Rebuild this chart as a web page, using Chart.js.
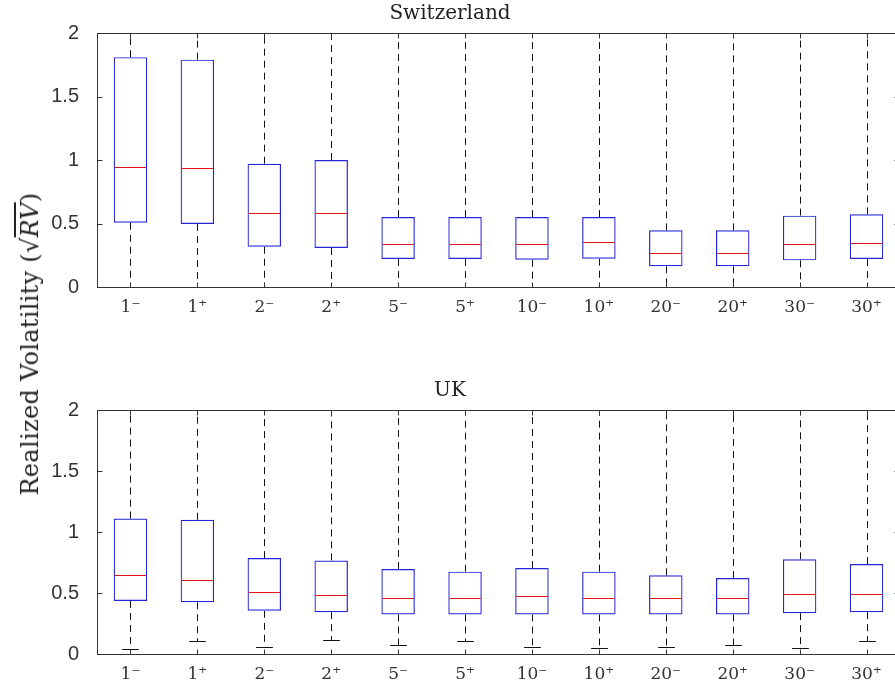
<!DOCTYPE html>
<html>
<head>
<meta charset="utf-8">
<script src="https://cdn.jsdelivr.net/npm/chart.js@4.4.0/dist/chart.umd.min.js"></script>
<style>
  html, body { margin: 0; padding: 0; background: #fff; overflow: hidden; }
  body { width: 895px; height: 688px; position: relative; }
  .panel { position: absolute; left: 0; width: 900px; }
  #ylab {
    position: absolute; left: 30px; top: 344px;
    transform: translate(-50%, -50%) rotate(-90deg);
    white-space: nowrap; font: 24px "DejaVu Serif", serif; color: #222;
    letter-spacing: 0.3px;
  }
  #ylab .rv { font-style: italic; text-decoration: overline; }
</style>
</head>
<body>
<div class="panel" style="top:0;height:320px"><canvas id="chSwiss"></canvas></div>
<div class="panel" style="top:377px;height:310px"><canvas id="chUK"></canvas></div>
<div id="ylab">Realized Volatility (√<span class="rv">RV</span>)</div>

<script>
const categories = ["1⁻", "1⁺", "2⁻", "2⁺", "5⁻", "5⁺", "10⁻", "10⁺", "20⁻", "20⁺", "30⁻", "30⁺"];
const yTicks = [0, 0.5, 1, 1.5, 2];

// Switzerland
const swissQ1  = [0.506, 0.496, 0.317, 0.307, 0.220, 0.220, 0.215, 0.223, 0.163, 0.163, 0.210, 0.220];
const swissMed = [0.945, 0.935, 0.585, 0.585, 0.341, 0.341, 0.341, 0.352, 0.270, 0.270, 0.339, 0.349];
const swissQ3  = [1.810, 1.790, 0.971, 1.000, 0.551, 0.551, 0.551, 0.551, 0.446, 0.446, 0.562, 0.572];
const swissLo  = [0, 0, 0, 0, 0, 0, 0, 0, 0, 0, 0, 0];
const swissHi  = [2.5, 2.5, 2.5, 2.5, 2.5, 2.5, 2.5, 2.5, 2.5, 2.5, 2.5, 2.5];

// UK
const ukQ1  = [0.435, 0.424, 0.354, 0.343, 0.324, 0.324, 0.324, 0.324, 0.324, 0.324, 0.335, 0.343];
const ukMed = [0.647, 0.604, 0.506, 0.484, 0.463, 0.455, 0.476, 0.463, 0.463, 0.455, 0.495, 0.495];
const ukQ3  = [1.110, 1.100, 0.786, 0.767, 0.697, 0.675, 0.705, 0.675, 0.645, 0.623, 0.776, 0.737];
const ukLo  = [0.043, 0.104, 0.060, 0.114, 0.071, 0.104, 0.060, 0.052, 0.060, 0.071, 0.052, 0.104];
const ukHi  = [2.5, 2.5, 2.5, 2.5, 2.5, 2.5, 2.5, 2.5, 2.5, 2.5, 2.5, 2.5];

const AXIS = "#333";
const BOX = "#2424d8";
const MED = "#e01818";

// whiskers, medians, frame and inward ticks, all placed through the chart scales
const boxExtras = {
  id: "boxExtras",
  beforeDatasetsDraw(chart, args, opts) {
    const { ctx, chartArea: a, scales: { x, y } } = chart;
    const bars = chart.getDatasetMeta(0).data;
    ctx.save();
    ctx.beginPath();
    ctx.rect(a.left, a.top, a.right - a.left, a.bottom - a.top);
    ctx.clip();
    ctx.strokeStyle = "#111";
    ctx.lineWidth = 1;
    opts.q1.forEach((q1, i) => {
      const px = Math.round(x.getPixelForValue(i)) + 0.5;
      const half = bars[i].width / 4;
      ctx.setLineDash([7, 5]);
      ctx.beginPath();
      ctx.moveTo(px, y.getPixelForValue(opts.q3[i]));
      ctx.lineTo(px, y.getPixelForValue(opts.hi[i]));
      ctx.moveTo(px, y.getPixelForValue(q1));
      ctx.lineTo(px, y.getPixelForValue(opts.lo[i]));
      ctx.stroke();
      ctx.setLineDash([]);
      ctx.beginPath();
      [opts.lo[i], opts.hi[i]].forEach(v => {
        const py = Math.round(y.getPixelForValue(v)) + 0.5;
        ctx.moveTo(px - half, py);
        ctx.lineTo(px + half, py);
      });
      ctx.stroke();
    });
    ctx.restore();
  },
  afterDatasetsDraw(chart, args, opts) {
    const { ctx, chartArea: a, scales: { x, y } } = chart;
    const bars = chart.getDatasetMeta(0).data;
    ctx.save();
    ctx.strokeStyle = MED;
    ctx.lineWidth = 1.2;
    ctx.beginPath();
    opts.med.forEach((m, i) => {
      const py = Math.round(y.getPixelForValue(m)) + 0.5;
      const w = bars[i].width / 2;
      ctx.moveTo(bars[i].x - w + 1, py);
      ctx.lineTo(bars[i].x + w - 1, py);
    });
    ctx.stroke();

    // frame
    ctx.strokeStyle = AXIS;
    ctx.lineWidth = 1;
    const L = Math.round(a.left) + 0.5, R = Math.round(a.right) - 0.5;
    const T = Math.round(a.top) + 0.5, B = Math.round(a.bottom) + 0.5;
    ctx.strokeRect(L, T, R - L, B - T);
    ctx.beginPath();
    yTicks.forEach(v => {
      const py = Math.round(y.getPixelForValue(v)) + 0.5;
      ctx.moveTo(L, py); ctx.lineTo(L + 5, py);
      ctx.moveTo(R, py); ctx.lineTo(R - 5, py);
    });
    categories.forEach((c, i) => {
      const px = Math.round(x.getPixelForValue(i)) + 0.5;
      ctx.moveTo(px, B); ctx.lineTo(px, B - 5);
      ctx.moveTo(px, T); ctx.lineTo(px, T + 5);
    });
    ctx.stroke();
    ctx.restore();
  }
};

function makeChart(id, title, q1, med, q3, lo, hi) {
  return new Chart(document.getElementById(id), {
    type: "bar",
    data: {
      labels: categories,
      datasets: [{
        data: q1.map((v, i) => [v, q3[i]]),
        backgroundColor: "rgba(0,0,0,0)",
        borderColor: BOX,
        borderWidth: 1.2,
        borderSkipped: false,
        barPercentage: 0.5,
        categoryPercentage: 1.0
      }]
    },
    options: {
      responsive: true,
      maintainAspectRatio: false,
      animation: false,
      layout: { padding: 0 },
      plugins: {
        legend: { display: false },
        tooltip: { enabled: false },
        title: {
          display: true,
          text: title,
          color: "#222",
          font: { family: "DejaVu Serif", size: 20, weight: "normal" },
          padding: { top: 2, bottom: 7 }
        },
        boxExtras: { q1, med, q3, lo, hi }
      },
      scales: {
        x: {
          grid: { display: false },
          border: { display: false },
          ticks: {
            color: "#333",
            font: { family: "DejaVu Serif", size: 17 },
            padding: 2,
            maxRotation: 0
          },
          afterFit(scale) { scale.height = 33; }
        },
        y: {
          min: 0,
          max: 2,
          grid: { display: false },
          border: { display: false },
          afterBuildTicks(scale) { scale.ticks = yTicks.map(v => ({ value: v })); },
          ticks: {
            color: "#333",
            font: { family: "Liberation Sans", size: 20 },
            padding: 10,
            callback: v => String(v)
          },
          afterFit(scale) { scale.width = 97; }
        }
      }
    },
    plugins: [boxExtras]
  });
}

makeChart("chSwiss", "Switzerland", swissQ1, swissMed, swissQ3, swissLo, swissHi);
makeChart("chUK", "UK", ukQ1, ukMed, ukQ3, ukLo, ukHi);
</script>
</body>
</html>
